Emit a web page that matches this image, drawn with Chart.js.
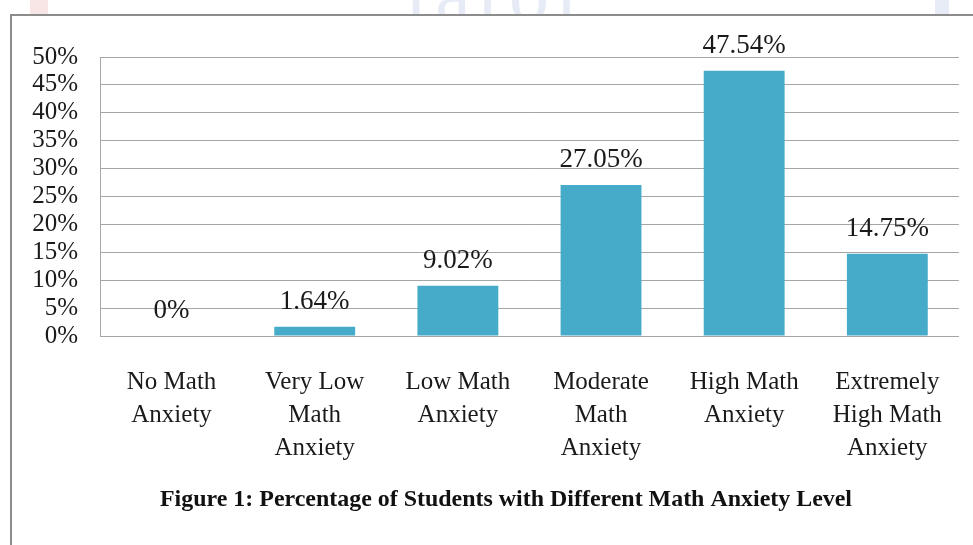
<!DOCTYPE html>
<html>
<head>
<meta charset="utf-8">
<script src="https://cdn.jsdelivr.net/npm/chart.js@4.4.1/dist/chart.umd.min.js"></script>
<style>
  html, body { margin: 0; padding: 0; background: #fff; }
  #wrap { position: relative; width: 973px; height: 545px; overflow: hidden; background: #fff; }
  #wm { position: absolute; left: 0; top: 0; width: 973px; height: 16px; overflow: hidden; }
  #wm .t { position: absolute; left: 405px; top: -52px; font: 80px 'Liberation Serif', serif; color: #e6ebf5; letter-spacing: 8px; }
  #wm .r { position: absolute; left: 30px; top: 0; width: 18px; height: 16px; background: #f8e6e6; }
  #wm .b { position: absolute; left: 935px; top: 0; width: 14px; height: 16px; background: #e7ecf6; }
  #box { position: absolute; left: 10px; top: 14px; width: 990px; height: 560px; border-left: 2px solid #8c8c8c; border-top: 2px solid #8c8c8c; box-sizing: border-box; }
  canvas { position: absolute; left: 0; top: 0; }
</style>
</head>
<body>
<div id="wrap">
  <div id="wm"><div class="r"></div><div class="t">lator</div><div class="b"></div></div>
  <div id="box"></div>
  <canvas id="c" width="973" height="545"></canvas>
</div>
<script>
const categories = [
  ['No Math', 'Anxiety'],
  ['Very Low', 'Math', 'Anxiety'],
  ['Low Math', 'Anxiety'],
  ['Moderate', 'Math', 'Anxiety'],
  ['High Math', 'Anxiety'],
  ['Extremely', 'High Math', 'Anxiety']
];
const percentages = [0, 1.64, 9.02, 27.05, 47.54, 14.75];
const valueLabels = ['0%', '1.64%', '9.02%', '27.05%', '47.54%', '14.75%'];
const figureTitle = 'Figure 1: Percentage of Students with Different Math Anxiety Level';

const SERIF = "'Liberation Serif', 'Times New Roman', serif";

const valueLabelPlugin = {
  id: 'valueLabels',
  afterDatasetsDraw(chart) {
    const ctx = chart.ctx;
    const meta = chart.getDatasetMeta(0);
    ctx.save();
    ctx.font = '27px ' + SERIF;
    ctx.fillStyle = '#1a1a1a';
    ctx.textAlign = 'center';
    ctx.textBaseline = 'middle';
    meta.data.forEach((bar, i) => {
      ctx.fillText(valueLabels[i], bar.x, bar.y - 25);
    });
    ctx.restore();
  }
};

const figureTitlePlugin = {
  id: 'figureTitle',
  afterDraw(chart) {
    const ctx = chart.ctx;
    ctx.save();
    ctx.font = 'bold 24px ' + SERIF;
    ctx.fillStyle = '#111';
    ctx.textBaseline = 'middle';
    const w = ctx.measureText(figureTitle).width;
    const target = 692;
    const sx = target / w;
    ctx.translate(160, 500);
    ctx.scale(sx, 1);
    ctx.textAlign = 'left';
    ctx.fillText(figureTitle, 0, 0);
    ctx.restore();
  }
};

new Chart(document.getElementById('c'), {
  type: 'bar',
  data: {
    labels: categories,
    datasets: [{
      data: percentages,
      backgroundColor: '#45abc8',
      borderWidth: 0,
      barPercentage: 0.565,
      categoryPercentage: 1.0
    }]
  },
  options: {
    responsive: false,
    animation: false,
    devicePixelRatio: 1,
    layout: { padding: { top: 57, right: 14, bottom: 0, left: 0 } },
    plugins: {
      legend: { display: false },
      tooltip: { enabled: false },
      title: { display: false }
    },
    scales: {
      y: {
        min: 0,
        max: 50,
        afterFit(scale) { scale.width = 100; },
        ticks: {
          stepSize: 5,
          autoSkip: false,
          padding: 22,
          color: '#1a1a1a',
          font: { family: SERIF, size: 25 },
          callback: v => v + '%'
        },
        grid: { color: '#a6a6a6', lineWidth: 1, drawTicks: false },
        border: { display: true, color: '#a6a6a6', width: 1 }
      },
      x: {
        afterFit(scale) { scale.height = 209; },
        ticks: {
          padding: 30,
          color: '#1a1a1a',
          maxRotation: 0,
          autoSkip: false,
          font: { family: SERIF, size: 25, lineHeight: 1.32 }
        },
        grid: { display: false, drawTicks: false },
        border: { display: true, color: '#a6a6a6', width: 1 }
      }
    }
  },
  plugins: [valueLabelPlugin, figureTitlePlugin]
});
</script>
</body>
</html>
